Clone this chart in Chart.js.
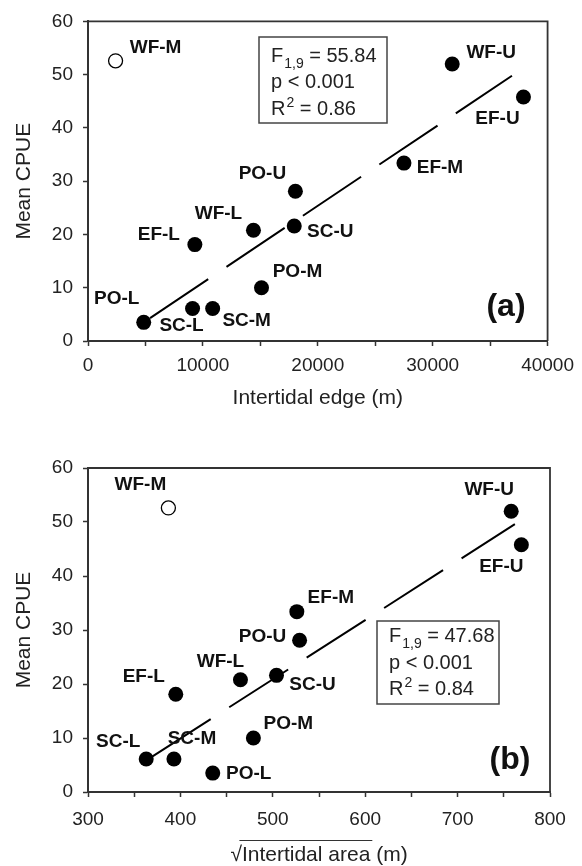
<!DOCTYPE html>
<html>
<head>
<meta charset="utf-8">
<script src="https://cdn.jsdelivr.net/npm/chart.js@4.4.1/dist/chart.umd.min.js"></script>
<style>
  html, body { margin: 0; padding: 0; background: #fff; }
  #wrap { position: relative; width: 582px; height: 866px; }
  canvas { position: absolute; left: 0; }
  #edgeChart { top: 0; }
  #areaChart { top: 420px; }
</style>
</head>
<body>
<div id="wrap">
  <canvas id="edgeChart" width="582" height="420"></canvas>
  <canvas id="areaChart" width="582" height="446"></canvas>
</div>
<script>
// Sites (WF/EF/PO/SC, U = upper, M = middle, L = lower)
const sites = ['WF-U', 'WF-M', 'WF-L', 'EF-U', 'EF-M', 'EF-L', 'PO-U', 'PO-M', 'PO-L', 'SC-U', 'SC-M', 'SC-L'];
const meanCpue = [52.0, 52.6, 20.8, 45.8, 33.4, 18.1, 28.1, 10.0, 3.5, 21.6, 6.1, 6.1];
const intertidalEdge = [31700, 2400, 14400, 37900, 27500, 9300, 18050, 15100, 4850, 17950, 10850, 9100];
const sqrtIntertidalArea = [758, 387, 465, 769, 526, 395, 529, 479, 435, 504, 393, 363];
const outlierSite = 'WF-M'; // open circle, not in the regression

// regression line ends
const edgeFitX = [5400, 36900];
const edgeFitY = [4.3, 49.8];
const areaFitX = [369, 762];
const areaFitY = [6.5, 49.6];

// tick labels
const cpueTicks = [0, 10, 20, 30, 40, 50, 60];
const edgeTickLabels = [0, 10000, 20000, 30000, 40000];
const areaTickLabels = [300, 400, 500, 600, 700, 800];

// F(1,9), p, R2
const edgeStats = ['55.84', '< 0.001', '0.86'];
const areaStats = ['47.68', '< 0.001', '0.84'];

// label offsets in px from each point (same order as sites)
const edgeLabelOffsets = [[39, -11], [40, -13], [-35, -16], [-26, 22], [36, 5], [-36, -10],
  [-33, -18], [36, -16], [-27, -24], [36, 6], [34, 12], [-11, 17]];
const areaLabelOffsets = [[-22, -21], [-28, -23], [-20, -18], [-20, 22], [34, -14], [-32, -17],
  [-37, -3], [35, -14], [36, 1], [36, 9], [18, -20], [-28, -17]];

const FONT = '"Liberation Sans", Arial, sans-serif';
const INK = '#222';

function drawStats(ctx, left, top, w, h, baselines, stats) {
  ctx.save();
  ctx.strokeStyle = '#444';
  ctx.lineWidth = 1.5;
  ctx.strokeRect(left, top, w, h);
  ctx.fillStyle = INK;
  ctx.textAlign = 'left';
  ctx.textBaseline = 'alphabetic';
  const big = '20px ' + FONT;
  const small = '14px ' + FONT;
  let x = left + 12;
  // F with subscript 1,9
  ctx.font = big; ctx.fillText('F', x, baselines[0]); x += ctx.measureText('F').width + 1;
  ctx.font = small; ctx.fillText('1,9', x, baselines[0] + 6); x += ctx.measureText('1,9').width;
  ctx.font = big; ctx.fillText(' = ' + stats[0], x, baselines[0]);
  // p
  ctx.fillText('p ' + stats[1], left + 12, baselines[1]);
  // R squared
  x = left + 12;
  ctx.fillText('R', x, baselines[2]); x += ctx.measureText('R').width + 1;
  ctx.font = small; ctx.fillText('2', x, baselines[2] - 8); x += ctx.measureText('2').width;
  ctx.font = big; ctx.fillText(' = ' + stats[2], x, baselines[2]);
  ctx.restore();
}

function makePanel(canvasId, cfg) {
  const filled = [];
  const open = [];
  sites.forEach((s, i) => {
    const pt = { x: cfg.xValues[i], y: meanCpue[i] };
    if (s === outlierSite) open.push(pt); else filled.push(pt);
  });

  const decor = {
    id: 'decor' + canvasId,
    beforeDatasetsDraw(chart) {
      const { ctx, chartArea: a } = chart;
      ctx.save();
      ctx.strokeStyle = '#333';
      ctx.lineWidth = 1.8;
      ctx.beginPath();
      ctx.moveTo(a.left, a.top);
      ctx.lineTo(a.right, a.top);
      ctx.lineTo(a.right, a.bottom);
      ctx.stroke();
      ctx.restore();
    },
    afterDraw(chart) {
      const { ctx, scales } = chart;
      ctx.save();
      // site labels
      ctx.font = 'bold 19px ' + FONT;
      ctx.fillStyle = '#111';
      ctx.textAlign = 'center';
      ctx.textBaseline = 'middle';
      sites.forEach((s, i) => {
        const px = scales.x.getPixelForValue(cfg.xValues[i]) + cfg.offsets[i][0];
        const py = scales.y.getPixelForValue(meanCpue[i]) + cfg.offsets[i][1];
        ctx.fillText(s, px, py);
      });
      // panel letter
      ctx.font = 'bold 32px ' + FONT;
      ctx.fillText(cfg.panel, cfg.panelPos[0], cfg.panelPos[1]);
      ctx.restore();

      const b = cfg.statsBox;
      drawStats(ctx, b[0], b[1], b[2], b[3], cfg.statsBaselines, cfg.stats);

      // vinculum over the square root sign
      if (cfg.sqrtTitle) {
        const xs = scales.x;
        ctx.save();
        ctx.font = '21px ' + FONT;
        const full = ctx.measureText(cfg.xTitle).width;
        const root = ctx.measureText('√').width;
        const under = ctx.measureText('Intertidal area').width;
        const x0 = (xs.left + xs.right) / 2 - full / 2;
        const yTitle = xs.bottom - 10.5;
        ctx.strokeStyle = '#333';
        ctx.lineWidth = 1.2;
        ctx.beginPath();
        ctx.moveTo(x0 + root - 2.5, yTitle - 15);
        ctx.lineTo(x0 + root + under + 2, yTitle - 15);
        ctx.stroke();
        ctx.restore();
      }
    }
  };

  return new Chart(document.getElementById(canvasId), {
    type: 'scatter',
    data: {
      datasets: [
        {
          data: filled,
          pointRadius: 7.5,
          pointHoverRadius: 7.5,
          pointBackgroundColor: '#000',
          pointBorderColor: '#000',
          pointBorderWidth: 0
        },
        {
          data: open,
          pointRadius: 7,
          pointHoverRadius: 7,
          pointBackgroundColor: '#fff',
          pointBorderColor: '#000',
          pointBorderWidth: 1.3
        },
        {
          type: 'line',
          data: cfg.fitX.map((x, i) => ({ x: x, y: cfg.fitY[i] })),
          borderColor: '#000',
          borderWidth: 2,
          borderDash: [70, 22],
          pointRadius: 0,
          fill: false
        }
      ]
    },
    options: {
      responsive: false,
      animation: false,
      events: [],
      layout: { padding: { left: 0, right: cfg.padRight, top: cfg.padTop, bottom: 0 } },
      plugins: {
        legend: { display: false },
        tooltip: { enabled: false }
      },
      scales: {
        x: {
          type: 'linear',
          min: cfg.xMin,
          max: cfg.xMax,
          afterFit: (scale) => { scale.height = cfg.xAxisHeight; },
          ticks: {
            stepSize: cfg.xStep,
            color: INK,
            font: { family: FONT, size: 19 },
            padding: cfg.xTickPad,
            maxRotation: 0,
            autoSkip: false,
            callback: (v) => (cfg.tickLabels.includes(v) ? String(v) : '')
          },
          grid: { drawOnChartArea: false, tickLength: 5, tickColor: '#333', tickWidth: 1.5 },
          border: { display: true, color: '#333', width: 2 },
          title: {
            display: true,
            text: cfg.xTitle,
            color: INK,
            font: { family: FONT, size: 21, lineHeight: 1 },
            padding: { top: 0, bottom: cfg.xTitlePad }
          }
        },
        y: {
          type: 'linear',
          min: cpueTicks[0],
          max: cpueTicks[cpueTicks.length - 1],
          afterFit: (scale) => { scale.width = 88; },
          ticks: {
            stepSize: 10,
            color: INK,
            font: { family: FONT, size: 19 },
            padding: 10,
            callback: (v) => (cpueTicks.includes(v) ? String(v) : '')
          },
          grid: { drawOnChartArea: false, tickLength: 5, tickColor: '#333', tickWidth: 1.5 },
          border: { display: true, color: '#333', width: 2 },
          title: {
            display: true,
            text: 'Mean CPUE',
            color: INK,
            font: { family: FONT, size: 21, lineHeight: 1 },
            padding: { top: 14, bottom: 0 }
          }
        }
      }
    },
    plugins: [decor]
  });
}

// (a) intertidal edge
makePanel('edgeChart', {
  xValues: intertidalEdge,
  fitX: edgeFitX,
  fitY: edgeFitY,
  offsets: edgeLabelOffsets,
  xMin: 0, xMax: 40000, xStep: 5000,
  tickLabels: edgeTickLabels,
  xTitle: 'Intertidal edge (m)',
  padTop: 17, padRight: 33,
  xAxisHeight: 79, xTickPad: 8, xTitlePad: 11,
  panel: '(a)', panelPos: [506, 307],
  stats: edgeStats,
  statsBox: [259, 37, 128, 86],
  statsBaselines: [62, 88, 115]
});

// (b) square root of intertidal area
makePanel('areaChart', {
  xValues: sqrtIntertidalArea,
  fitX: areaFitX,
  fitY: areaFitY,
  offsets: areaLabelOffsets,
  xMin: 300, xMax: 800, xStep: 50,
  tickLabels: areaTickLabels,
  xTitle: '√Intertidal area (m)',
  sqrtTitle: true,
  padTop: 48, padRight: 32,
  xAxisHeight: 74, xTickPad: 11, xTitlePad: 0,
  panel: '(b)', panelPos: [510, 340],
  stats: areaStats,
  statsBox: [377, 201, 122, 83],
  statsBaselines: [222, 249, 275]
});
</script>
</body>
</html>
